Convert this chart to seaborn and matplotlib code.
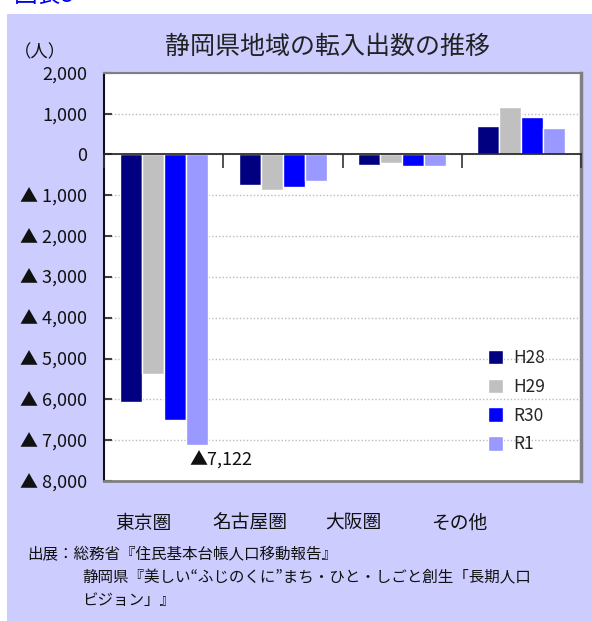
import matplotlib
matplotlib.use("Agg")
import matplotlib.pyplot as plt
import matplotlib.patches as mpatches
import seaborn as sns
import pandas as pd
from matplotlib.ticker import FuncFormatter, FixedLocator

categories = ["東京圏", "名古屋圏", "大阪圏", "その他"]
years = ["H28", "H29", "R30", "R1"]
h28 = [-6060, -760, -260, 690]
h29 = [-5380, -880, -200, 1170]
r30 = [-6510, -810, -290, 910]
r1 = [-7122, -660, -290, 640]
colors = ["#000080", "#C0C0C0", "#0000FF", "#9999FF"]
yticks = list(range(-8000, 2001, 1000))

rows = []
for yr, vals in zip(years, [h28, h29, r30, r1]):
    for c, v in zip(categories, vals):
        rows.append({"region": c, "year": yr, "value": v})
df = pd.DataFrame(rows)

sns.set_theme(style="white")
plt.rcParams["font.family"] = ["Noto Sans CJK JP", "DejaVu Sans"]

fig = plt.figure(figsize=(5.92, 6.21), dpi=100)
fig.patch.set_facecolor("white")
fig.patches.append(mpatches.Rectangle((7 / 592, 0), 1 - 7 / 592, 1 - 14 / 621,
                                      transform=fig.transFigure, facecolor="#CCCCFF",
                                      edgecolor="none", zorder=-10))
fig.text(14 / 592, 1 - 8 / 621, "図表8", color="#0000EE", fontsize=17, va="bottom", ha="left")

ax = fig.add_axes([104 / 592, 1 - 481 / 621, 477 / 592, 408.3 / 621])
ax.set_facecolor("white")
sns.barplot(data=df, x="region", y="value", hue="year", order=categories, hue_order=years,
            palette=colors, width=0.74, gap=0, saturation=1, ax=ax, legend=True, zorder=3)

ax.set_ylim(-8000, 2000)
ax.set_xlim(-0.5, 3.5)
ax.yaxis.set_major_locator(FixedLocator(yticks))
ax.yaxis.set_major_formatter(FuncFormatter(lambda v, p: "0" if v == 0 else (f"▲ {abs(int(v)):,}" if v < 0 else f"{int(v):,}")))
ax.tick_params(axis="y", direction="in", length=6, width=1.5, color="#404040",
               labelsize=13, labelcolor="#111111", pad=12, left=True)
ax.grid(axis="y", color="#BBBBBB", linestyle=(0, (1, 1.5)), linewidth=1, zorder=0)
ax.set_xlabel("")
ax.set_ylabel("")
ax.set_xticks([])

for s in ["top", "right", "bottom"]:
    ax.spines[s].set_color("#808080")
ax.spines["top"].set_linewidth(1.5)
ax.spines["right"].set_linewidth(2.5)
ax.spines["bottom"].set_linewidth(2)
ax.spines["left"].set_color("#111111")
ax.spines["left"].set_linewidth(1.5)

# zero axis with category boundary ticks
sec = ax.secondary_xaxis(0.8)
sec.set_xticks([-0.5, 0.5, 1.5, 2.5, 3.5])
sec.set_xticklabels([])
sec.tick_params(direction="in", length=10, width=1.2, color="#333333")
sec.spines["bottom"].set_color("black")
sec.spines["bottom"].set_linewidth(1.5)
sec.set_zorder(5)

# annotation for the smallest value
bar_r1 = ax.containers[3][0]
ax.annotate(f"▲{abs(r1[0]):,}", xy=(bar_r1.get_x() + bar_r1.get_width() / 2, r1[0]),
            xytext=(-7, -6), textcoords="offset pixels", ha="left", va="top",
            fontsize=13, color="#111111")

# legend
handles, labels = ax.get_legend_handles_labels()
ax.legend(handles, labels, loc="upper left", bbox_to_anchor=(0.79, 0.34), frameon=False,
          fontsize=12.5, handlelength=0.9, handleheight=0.9, labelspacing=0.62,
          handletextpad=0.55, borderaxespad=0)

fig.text(40 / 592, 1 - 52 / 621, "（人）", fontsize=12.5, ha="center", va="center", color="#111111")
fig.text(328 / 592, 1 - 47 / 621, "静岡県地域の転入出数の推移", fontsize=18, ha="center", va="center", color="#222222")

label_x = [143.5, 249.5, 353.5, 459]
for c, lx in zip(categories, label_x):
    fig.text(lx / 592, 1 - 523 / 621, c, fontsize=13.5, ha="center", va="center", color="#111111")

src_lines = [
    (27, 555, "出展：総務省『住民基本台帳人口移動報告』"),
    (82, 578, "静岡県『美しい“ふじのくに”まち・ひと・しごと創生「長期人口"),
    (82, 600, "ビジョン」』"),
]
for sx, sy, t in src_lines:
    fig.text(sx / 592, 1 - sy / 621, t, fontsize=11.2, ha="left", va="center", color="#111111")

fig.savefig("out.png", dpi=100, facecolor=fig.get_facecolor())
